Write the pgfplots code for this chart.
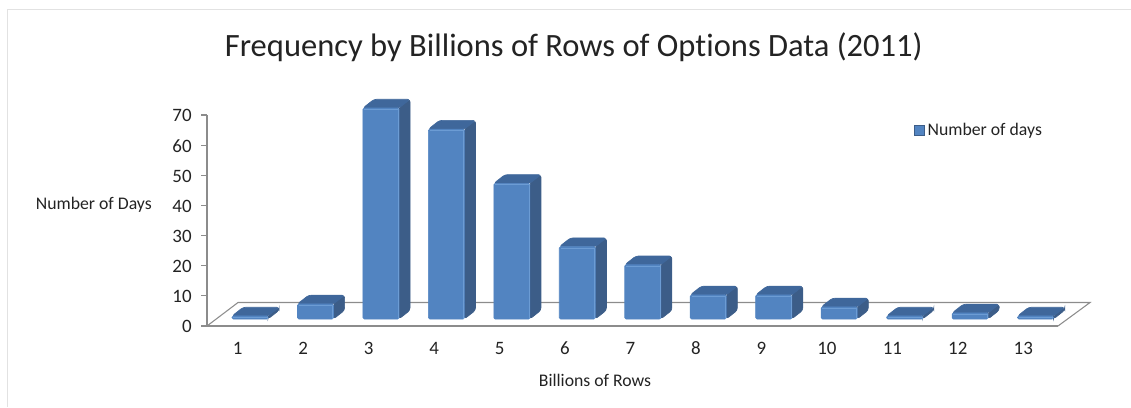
\documentclass[border=0pt]{standalone}
\usepackage{fontspec}
\setmainfont[Ligatures=NoCommon]{Carlito}
\usepackage{pgfplots}
\pgfplotsset{compat=1.18}
\definecolor{barFront}{RGB}{82,132,193}
\definecolor{barLight}{RGB}{108,156,212}
\definecolor{barSide}{RGB}{60,93,136}
\definecolor{barTop}{RGB}{63,103,155}
\definecolor{axisGray}{RGB}{140,140,140}
\definecolor{frameGray}{RGB}{226,226,226}
\definecolor{textDark}{RGB}{35,35,35}
% one bar: category, value (1px = 0.75pt; 65.46px per category, 3.014px per unit)
\newcommand{\threedbar}[2]{%
  \pgfmathsetmacro\barL{#1+0.157-0.275}%
  \pgfmathsetmacro\barR{#1+0.157+0.275}%
  \pgfmathsetmacro\barLb{\barL+0.17}%
  \pgfmathsetmacro\barRb{\barR+0.17}%
  \pgfmathsetmacro\barB{2.32}%
  \pgfmathsetmacro\barT{2.32+#2}%
  \pgfmathsetmacro\barBb{\barB+2.9}%
  \pgfmathsetmacro\barTb{\barT+2.9}%
  \pgfmathsetmacro\barLi{\barL+0.02}%
  \pgfmathsetmacro\barRi{\barR-0.012}%
  \pgfmathsetmacro\barTi{\barT-0.45}%
  \addplot[forget plot,fill=barSide,draw=barSide,line width=0.5pt,rounded corners=2pt] coordinates {(\barR,\barT)(\barRb,\barTb)(\barRb,\barBb)(\barR,\barB)} -- cycle;
  \addplot[forget plot,fill=barTop,draw=barTop,line width=0.5pt,rounded corners=2pt] coordinates {(\barL,\barT)(\barLb,\barTb)(\barRb,\barTb)(\barR,\barT)} -- cycle;
  \addplot[forget plot,fill=barFront,draw=barFront,line width=0.5pt,rounded corners=1pt] coordinates {(\barL,\barB)(\barL,\barT)(\barR,\barT)(\barR,\barB)} -- cycle;
  \addplot[forget plot,draw=barLight,line width=0.5pt] coordinates {(\barLi,\barTi)(\barRi,\barTi)(\barRi,\barB)};
}
\begin{document}
\begin{tikzpicture}
\path[use as bounding box] (0,0) rectangle (848.25pt,305.25pt);
\draw[frameGray,line width=0.75pt] (5.6pt,0) -- (5.6pt,298.1pt) -- (848.25pt,298.1pt);
\begin{axis}[
    at={(155.25pt,60.75pt)},
    anchor=south west,
    scale only axis,
    width=638.25pt,
    height=158.25pt,
    xmin=0.5, xmax=13.5,
    ymin=0, ymax=70,
    clip=false,
    axis x line=bottom,
    axis y line=left,
    axis line style={-,axisGray,line width=0.8pt},
    xtick={1,2,3,4,5,6,7,8,9,10,11,12,13},
    ytick={0,10,20,30,40,50,60,70},
    x tick style={draw=none},
    y tick style={axisGray,line width=0.8pt},
    tick align=outside,
    major tick length=4.5pt,
    /pgf/number format/assume math mode=true,
    tick label style={font=\fontsize{14.2}{16}\selectfont,text=textDark},
    xticklabel style={yshift=-4pt,xshift=-1.5pt},
    yticklabel style={xshift=-3.5pt,yshift=-0.5pt},
    title={Frequency by Billions of Rows of Options Data (2011)},
    title style={at={(axis description cs:0.431,1.285)},anchor=center,font=\fontsize{24.4}{28}\selectfont,text=textDark},
    xlabel={Billions of Rows},
    xlabel style={at={(axis description cs:0.456,-0.26)},anchor=center,font=\fontsize{13.3}{15}\selectfont,text=textDark},
    ylabel={Number of Days},
    ylabel style={at={(axis description cs:-0.133,0.574)},anchor=center,rotate=-90,font=\fontsize{13.3}{15}\selectfont,text=textDark},
    legend style={at={(axis description cs:0.830,0.925)},anchor=west,draw=none,fill=none,inner sep=0pt,
        font=\fontsize{13.3}{15}\selectfont,text=textDark},
]
% floor
\addplot[forget plot,draw=axisGray,line width=0.8pt] coordinates {(0.5,0)(0.974,7.8)(13.99,7.8)(13.5,0)};

\threedbar{1}{1}
\threedbar{2}{5}
\threedbar{3}{70}
\threedbar{4}{63}
\threedbar{5}{45}
\threedbar{6}{24}
\threedbar{7}{18}
\threedbar{8}{8}
\threedbar{9}{8}
\threedbar{10}{4}
\threedbar{11}{1}
\threedbar{12}{2}
\threedbar{13}{1}

\addlegendimage{legend image code/.code={\draw[fill=barFront,draw=barSide,line width=0.9pt] (0pt,-3.8pt) rectangle (7.6pt,3.8pt);}}
\addlegendentry{Number of days}
\end{axis}
\end{tikzpicture}
\end{document}
